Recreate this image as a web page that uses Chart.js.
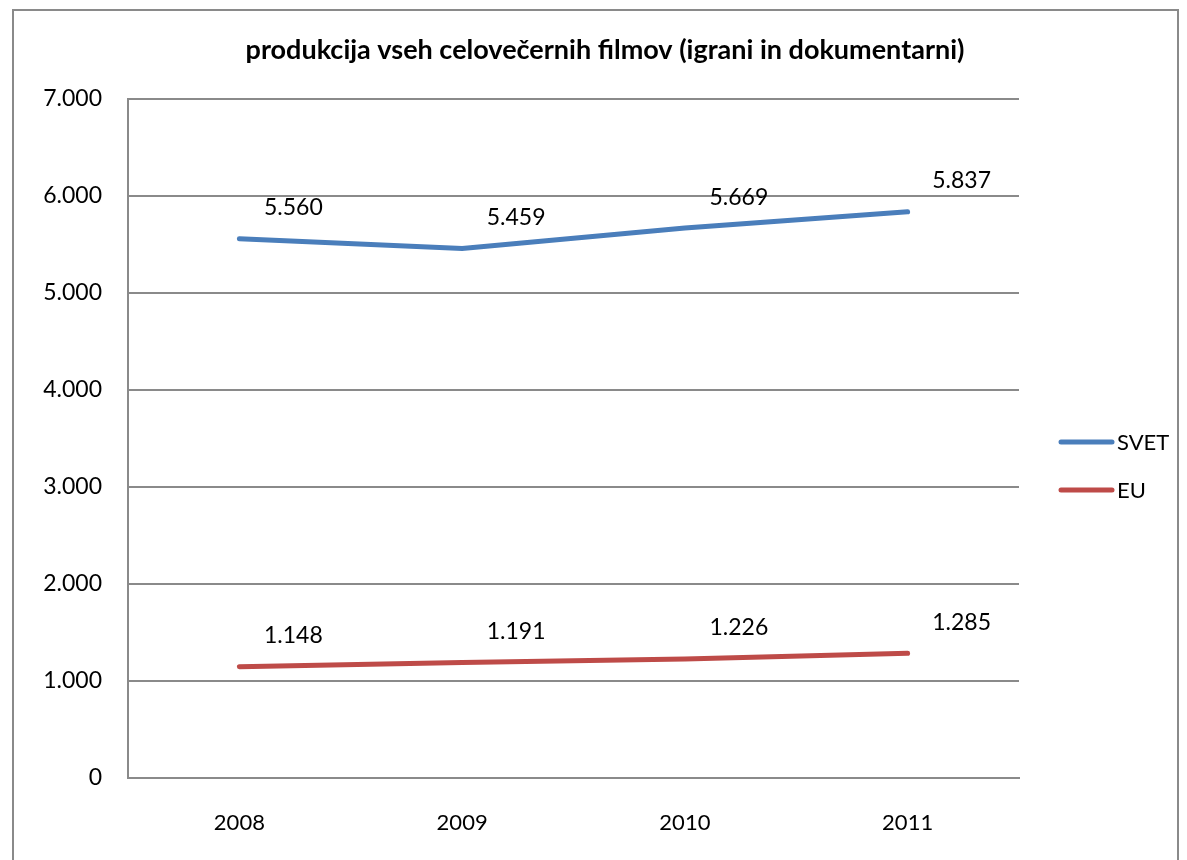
<!DOCTYPE html>
<html>
<head>
<meta charset="utf-8">
<script src="https://cdn.jsdelivr.net/npm/chart.js@4/dist/chart.umd.min.js"></script>
<style>
    html, body { margin: 0; padding: 0; background: #fff; }
    #wrap { width: 1187px; height: 860px; }
</style>
</head>
<body>
<div id="wrap"><canvas id="chart" width="1187" height="860"></canvas></div>
<script>
const years = ["2008", "2009", "2010", "2011"];
const svet = [5560, 5459, 5669, 5837];
const eu = [1148, 1191, 1226, 1285];
const yTicks = [0, 1000, 2000, 3000, 4000, 5000, 6000, 7000];
const titleText = 'produkcija vseh celovečernih filmov (igrani in dokumentarni)';

const FONT = "Lato, 'Open Sans', sans-serif";

function fmt(v) {
    return String(v).replace(/\B(?=(\d{3})+(?!\d))/g, ".");
}

// border, title, labels next to points, legend on the right
const extras = {
    id: 'extras',
    beforeDraw(chart) {
        let c = chart.ctx;
        c.save();
        c.strokeStyle = '#8a8a8a';
        c.lineWidth = 2;
        c.strokeRect(13, 10, 1165, 900);
        c.fillStyle = '#000';
        c.font = "bold 27px " + FONT;
        c.textAlign = 'center';
        c.textBaseline = 'middle';
        c.fillText(titleText, 605, 50);
        c.restore();
    },
    afterDatasetsDraw(chart) {
        let c = chart.ctx;
        c.save();
        c.font = "23px " + FONT;
        c.fillStyle = '#000';
        c.textAlign = 'center';
        c.textBaseline = 'middle';
        chart.data.datasets.forEach((ds, i) => {
            chart.getDatasetMeta(i).data.forEach((pt, j) => {
                c.fillText(fmt(ds.data[j]), pt.x + 54, pt.y - 31);
            });
        });
        // legend
        c.font = "22px " + FONT;
        chart.data.datasets.forEach((ds, i) => {
            let y = 442 + i * 48;
            c.strokeStyle = ds.borderColor;
            c.lineWidth = 5;
            c.lineCap = 'round';
            c.beginPath();
            c.moveTo(1061, y);
            c.lineTo(1112, y);
            c.stroke();
            c.textAlign = 'left';
            c.fillText(ds.label, 1117, y + 1);
        });
        c.restore();
    }
};

function initChart() {
    let data = {
        labels: years,
        datasets: [{
            label: 'SVET',
            data: svet,
            borderColor: '#4A7EBB',
            backgroundColor: '#4A7EBB',
            borderWidth: 5,
            borderCapStyle: 'round',
            pointRadius: 0,
            tension: 0
        }, {
            label: 'EU',
            data: eu,
            borderColor: '#BE4B48',
            backgroundColor: '#BE4B48',
            borderWidth: 5,
            borderCapStyle: 'round',
            pointRadius: 0,
            tension: 0
        }]
    };

    let options = {
        responsive: false,
        animation: false,
        layout: {
            padding: { left: 0, right: 168, top: 99, bottom: 0 }
        },
        plugins: {
            legend: { display: false },
            tooltip: { enabled: false },
            title: { display: false }
        },
        scales: {
            y: {
                min: 0,
                max: 7000,
                afterBuildTicks: (scale) => { scale.ticks = yTicks.map(v => ({ value: v })); },
                afterFit: (scale) => { scale.width = 128; },
                grid: {
                    color: '#8a8a8a',
                    lineWidth: 2,
                    drawTicks: false
                },
                border: { display: true, color: '#8a8a8a', width: 2 },
                ticks: {
                    color: '#000',
                    font: { size: 23, family: FONT },
                    padding: 26,
                    callback: (v) => fmt(v)
                }
            },
            x: {
                offset: true,
                afterFit: (scale) => { scale.height = 82; },
                grid: { display: false, drawTicks: false },
                border: { display: true, color: '#8a8a8a', width: 2 },
                ticks: {
                    color: '#000',
                    font: { size: 22, family: FONT },
                    padding: 32
                }
            }
        }
    };

    let ctx = document.getElementById('chart').getContext('2d');
    new Chart(ctx, {
        type: 'line',
        data: data,
        options: options,
        plugins: [extras]
    });
}

initChart();
</script>
</body>
</html>
